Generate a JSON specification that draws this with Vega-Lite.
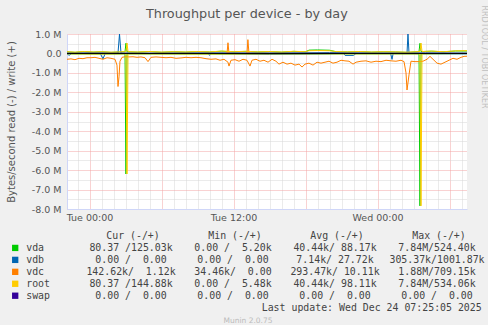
{
  "$schema": "https://vega.github.io/schema/vega-lite/v6.json",
  "background": "#f0f0f0",
  "padding": {"left": 6, "top": 5, "right": 0, "bottom": 0},
  "title": {"text": "Throughput per device - by day", "font": "DejaVu Sans", "fontSize": 12.8, "fontWeight": "normal", "color": "#555555", "anchor": "middle", "offset": -15},
  "spacing": 8,
  "config": {
    "font": "DejaVu Sans",
    "view": {"stroke": null},
    "axis": {"labelOverlap": false, "labelFlush": false, "labelBound": false}
  },
  "datasets": {
    "series": [
      {"h": -1.875, "dev": "vda", "dir": "w", "v": 80000}, {"h": -1.2, "dev": "vda", "dir": "w", "v": 55000}, {"h": -0.5, "dev": "vda", "dir": "w", "v": 95000}, {"h": 0.3, "dev": "vda", "dir": "w", "v": 65000}, {"h": 1.0, "dev": "vda", "dir": "w", "v": 85000}, {"h": 1.8, "dev": "vda", "dir": "w", "v": 55000}, {"h": 2.5, "dev": "vda", "dir": "w", "v": 75000}, {"h": 2.96, "dev": "vda", "dir": "w", "v": 90000}, {"h": 3.04, "dev": "vda", "dir": "w", "v": 524400}, {"h": 3.125, "dev": "vda", "dir": "w", "v": 85000}, {"h": 4.0, "dev": "vda", "dir": "w", "v": 65000}, {"h": 5.0, "dev": "vda", "dir": "w", "v": 95000}, {"h": 6.0, "dev": "vda", "dir": "w", "v": 60000}, {"h": 7.0, "dev": "vda", "dir": "w", "v": 85000}, {"h": 8.0, "dev": "vda", "dir": "w", "v": 65000}, {"h": 9.0, "dev": "vda", "dir": "w", "v": 95000}, {"h": 10.0, "dev": "vda", "dir": "w", "v": 75000}, {"h": 11.0, "dev": "vda", "dir": "w", "v": 115000}, {"h": 12.0, "dev": "vda", "dir": "w", "v": 85000}, {"h": 13.0, "dev": "vda", "dir": "w", "v": 105000}, {"h": 14.0, "dev": "vda", "dir": "w", "v": 75000}, {"h": 15.0, "dev": "vda", "dir": "w", "v": 95000}, {"h": 16.0, "dev": "vda", "dir": "w", "v": 65000}, {"h": 17.0, "dev": "vda", "dir": "w", "v": 105000}, {"h": 18.0, "dev": "vda", "dir": "w", "v": 85000}, {"h": 18.3, "dev": "vda", "dir": "w", "v": 170000}, {"h": 19.0, "dev": "vda", "dir": "w", "v": 180000}, {"h": 20.0, "dev": "vda", "dir": "w", "v": 165000}, {"h": 20.5, "dev": "vda", "dir": "w", "v": 95000}, {"h": 21.5, "dev": "vda", "dir": "w", "v": 75000}, {"h": 22.5, "dev": "vda", "dir": "w", "v": 95000}, {"h": 23.5, "dev": "vda", "dir": "w", "v": 65000}, {"h": 24.5, "dev": "vda", "dir": "w", "v": 85000}, {"h": 25.5, "dev": "vda", "dir": "w", "v": 75000}, {"h": 26.5, "dev": "vda", "dir": "w", "v": 55000}, {"h": 27.46, "dev": "vda", "dir": "w", "v": 95000}, {"h": 27.54, "dev": "vda", "dir": "w", "v": 520000}, {"h": 27.625, "dev": "vda", "dir": "w", "v": 95000}, {"h": 28.5, "dev": "vda", "dir": "w", "v": 115000}, {"h": 29.5, "dev": "vda", "dir": "w", "v": 85000}, {"h": 30.5, "dev": "vda", "dir": "w", "v": 125000}, {"h": 31.46, "dev": "vda", "dir": "w", "v": 125000},
      {"h": -1.875, "dev": "vda", "dir": "r", "v": -20000}, {"h": 1.0, "dev": "vda", "dir": "r", "v": -30000}, {"h": 2.96, "dev": "vda", "dir": "r", "v": -20000}, {"h": 3.04, "dev": "vda", "dir": "r", "v": -6200000}, {"h": 3.125, "dev": "vda", "dir": "r", "v": -20000}, {"h": 10.0, "dev": "vda", "dir": "r", "v": -30000}, {"h": 20.0, "dev": "vda", "dir": "r", "v": -20000}, {"h": 27.46, "dev": "vda", "dir": "r", "v": -20000}, {"h": 27.54, "dev": "vda", "dir": "r", "v": -7840000}, {"h": 27.625, "dev": "vda", "dir": "r", "v": -20000}, {"h": 31.46, "dev": "vda", "dir": "r", "v": -10000},
      {"h": -1.875, "dev": "vdb", "dir": "w", "v": 10000}, {"h": 0.0, "dev": "vdb", "dir": "w", "v": 30000}, {"h": 2.375, "dev": "vdb", "dir": "w", "v": 20000}, {"h": 2.5, "dev": "vdb", "dir": "w", "v": 1000000}, {"h": 2.625, "dev": "vdb", "dir": "w", "v": 20000}, {"h": 5.0, "dev": "vdb", "dir": "w", "v": 10000}, {"h": 10.0, "dev": "vdb", "dir": "w", "v": 30000}, {"h": 15.0, "dev": "vdb", "dir": "w", "v": 20000}, {"h": 20.0, "dev": "vdb", "dir": "w", "v": 40000}, {"h": 24.0, "dev": "vdb", "dir": "w", "v": 20000}, {"h": 26.46, "dev": "vdb", "dir": "w", "v": 20000}, {"h": 26.54, "dev": "vdb", "dir": "w", "v": 1001870}, {"h": 26.625, "dev": "vdb", "dir": "w", "v": 20000}, {"h": 28.0, "dev": "vdb", "dir": "w", "v": 30000}, {"h": 31.46, "dev": "vdb", "dir": "w", "v": 20000},
      {"h": -1.875, "dev": "vdb", "dir": "r", "v": -10000}, {"h": -1.7, "dev": "vdb", "dir": "r", "v": -100000}, {"h": -1.5, "dev": "vdb", "dir": "r", "v": -10000}, {"h": 0.9, "dev": "vdb", "dir": "r", "v": -10000}, {"h": 1.125, "dev": "vdb", "dir": "r", "v": -280000}, {"h": 1.3, "dev": "vdb", "dir": "r", "v": -10000}, {"h": 9.9, "dev": "vdb", "dir": "r", "v": -10000}, {"h": 10.0, "dev": "vdb", "dir": "r", "v": -100000}, {"h": 10.1, "dev": "vdb", "dir": "r", "v": -10000}, {"h": 15.0, "dev": "vdb", "dir": "r", "v": -50000}, {"h": 21.2, "dev": "vdb", "dir": "r", "v": -10000}, {"h": 21.3, "dev": "vdb", "dir": "r", "v": -100000}, {"h": 22.0, "dev": "vdb", "dir": "r", "v": -100000}, {"h": 22.2, "dev": "vdb", "dir": "r", "v": -10000}, {"h": 25.1, "dev": "vdb", "dir": "r", "v": -10000}, {"h": 25.21, "dev": "vdb", "dir": "r", "v": -305370}, {"h": 25.3, "dev": "vdb", "dir": "r", "v": -10000}, {"h": 31.46, "dev": "vdb", "dir": "r", "v": -20000},
      {"h": -1.875, "dev": "vdc", "dir": "w", "v": 1000}, {"h": 11.46, "dev": "vdc", "dir": "w", "v": 1000}, {"h": 11.54, "dev": "vdc", "dir": "w", "v": 550000}, {"h": 11.625, "dev": "vdc", "dir": "w", "v": 1000}, {"h": 13.125, "dev": "vdc", "dir": "w", "v": 1000}, {"h": 13.2, "dev": "vdc", "dir": "w", "v": 709150}, {"h": 13.29, "dev": "vdc", "dir": "w", "v": 1000}, {"h": 31.46, "dev": "vdc", "dir": "w", "v": 1120},
      {"h": -1.875, "dev": "vdc", "dir": "r", "v": -300000}, {"h": -1.54, "dev": "vdc", "dir": "r", "v": -280000}, {"h": -1.21, "dev": "vdc", "dir": "r", "v": -320000}, {"h": -0.875, "dev": "vdc", "dir": "r", "v": -250000}, {"h": -0.54, "dev": "vdc", "dir": "r", "v": -270000}, {"h": -0.21, "dev": "vdc", "dir": "r", "v": -220000}, {"h": 0.125, "dev": "vdc", "dir": "r", "v": -220000}, {"h": 0.46, "dev": "vdc", "dir": "r", "v": -200000}, {"h": 0.79, "dev": "vdc", "dir": "r", "v": -250000}, {"h": 1.125, "dev": "vdc", "dir": "r", "v": -300000}, {"h": 1.46, "dev": "vdc", "dir": "r", "v": -220000}, {"h": 1.79, "dev": "vdc", "dir": "r", "v": -250000}, {"h": 2.125, "dev": "vdc", "dir": "r", "v": -300000}, {"h": 2.29, "dev": "vdc", "dir": "r", "v": -600000}, {"h": 2.375, "dev": "vdc", "dir": "r", "v": -1700000}, {"h": 2.46, "dev": "vdc", "dir": "r", "v": -1200000}, {"h": 2.54, "dev": "vdc", "dir": "r", "v": -400000}, {"h": 2.71, "dev": "vdc", "dir": "r", "v": -200000}, {"h": 2.96, "dev": "vdc", "dir": "r", "v": -170000}, {"h": 3.29, "dev": "vdc", "dir": "r", "v": -180000}, {"h": 3.625, "dev": "vdc", "dir": "r", "v": -170000}, {"h": 3.96, "dev": "vdc", "dir": "r", "v": -200000}, {"h": 4.29, "dev": "vdc", "dir": "r", "v": -180000}, {"h": 4.625, "dev": "vdc", "dir": "r", "v": -220000}, {"h": 4.875, "dev": "vdc", "dir": "r", "v": -420000}, {"h": 5.125, "dev": "vdc", "dir": "r", "v": -200000}, {"h": 5.54, "dev": "vdc", "dir": "r", "v": -180000}, {"h": 5.96, "dev": "vdc", "dir": "r", "v": -200000}, {"h": 6.375, "dev": "vdc", "dir": "r", "v": -220000}, {"h": 6.79, "dev": "vdc", "dir": "r", "v": -200000}, {"h": 7.21, "dev": "vdc", "dir": "r", "v": -250000}, {"h": 7.625, "dev": "vdc", "dir": "r", "v": -230000}, {"h": 8.04, "dev": "vdc", "dir": "r", "v": -200000}, {"h": 8.46, "dev": "vdc", "dir": "r", "v": -220000}, {"h": 8.875, "dev": "vdc", "dir": "r", "v": -200000}, {"h": 9.29, "dev": "vdc", "dir": "r", "v": -220000}, {"h": 9.71, "dev": "vdc", "dir": "r", "v": -270000}, {"h": 10.125, "dev": "vdc", "dir": "r", "v": -300000}, {"h": 10.54, "dev": "vdc", "dir": "r", "v": -280000}, {"h": 10.875, "dev": "vdc", "dir": "r", "v": -350000}, {"h": 11.21, "dev": "vdc", "dir": "r", "v": -300000}, {"h": 11.54, "dev": "vdc", "dir": "r", "v": -450000}, {"h": 11.625, "dev": "vdc", "dir": "r", "v": -650000}, {"h": 11.79, "dev": "vdc", "dir": "r", "v": -350000}, {"h": 12.125, "dev": "vdc", "dir": "r", "v": -320000}, {"h": 12.46, "dev": "vdc", "dir": "r", "v": -400000}, {"h": 12.79, "dev": "vdc", "dir": "r", "v": -300000}, {"h": 13.125, "dev": "vdc", "dir": "r", "v": -350000}, {"h": 13.375, "dev": "vdc", "dir": "r", "v": -650000}, {"h": 13.54, "dev": "vdc", "dir": "r", "v": -350000}, {"h": 13.875, "dev": "vdc", "dir": "r", "v": -300000}, {"h": 14.21, "dev": "vdc", "dir": "r", "v": -400000}, {"h": 14.54, "dev": "vdc", "dir": "r", "v": -350000}, {"h": 14.875, "dev": "vdc", "dir": "r", "v": -450000}, {"h": 15.21, "dev": "vdc", "dir": "r", "v": -300000}, {"h": 15.54, "dev": "vdc", "dir": "r", "v": -400000}, {"h": 15.79, "dev": "vdc", "dir": "r", "v": -550000}, {"h": 16.125, "dev": "vdc", "dir": "r", "v": -450000}, {"h": 16.46, "dev": "vdc", "dir": "r", "v": -550000}, {"h": 16.79, "dev": "vdc", "dir": "r", "v": -500000}, {"h": 17.125, "dev": "vdc", "dir": "r", "v": -600000}, {"h": 17.46, "dev": "vdc", "dir": "r", "v": -550000}, {"h": 17.71, "dev": "vdc", "dir": "r", "v": -700000}, {"h": 17.96, "dev": "vdc", "dir": "r", "v": -550000}, {"h": 18.29, "dev": "vdc", "dir": "r", "v": -500000}, {"h": 18.625, "dev": "vdc", "dir": "r", "v": -600000}, {"h": 18.96, "dev": "vdc", "dir": "r", "v": -450000}, {"h": 19.29, "dev": "vdc", "dir": "r", "v": -500000}, {"h": 19.625, "dev": "vdc", "dir": "r", "v": -450000}, {"h": 19.96, "dev": "vdc", "dir": "r", "v": -400000}, {"h": 20.29, "dev": "vdc", "dir": "r", "v": -500000}, {"h": 20.625, "dev": "vdc", "dir": "r", "v": -450000}, {"h": 20.96, "dev": "vdc", "dir": "r", "v": -350000}, {"h": 21.29, "dev": "vdc", "dir": "r", "v": -380000}, {"h": 21.625, "dev": "vdc", "dir": "r", "v": -400000}, {"h": 21.96, "dev": "vdc", "dir": "r", "v": -550000}, {"h": 22.21, "dev": "vdc", "dir": "r", "v": -450000}, {"h": 22.625, "dev": "vdc", "dir": "r", "v": -400000}, {"h": 23.04, "dev": "vdc", "dir": "r", "v": -380000}, {"h": 23.46, "dev": "vdc", "dir": "r", "v": -450000}, {"h": 23.875, "dev": "vdc", "dir": "r", "v": -400000}, {"h": 24.29, "dev": "vdc", "dir": "r", "v": -420000}, {"h": 24.71, "dev": "vdc", "dir": "r", "v": -350000}, {"h": 25.125, "dev": "vdc", "dir": "r", "v": -380000}, {"h": 25.54, "dev": "vdc", "dir": "r", "v": -400000}, {"h": 25.96, "dev": "vdc", "dir": "r", "v": -350000}, {"h": 26.21, "dev": "vdc", "dir": "r", "v": -420000}, {"h": 26.375, "dev": "vdc", "dir": "r", "v": -1000000}, {"h": 26.46, "dev": "vdc", "dir": "r", "v": -1880000}, {"h": 26.625, "dev": "vdc", "dir": "r", "v": -1100000}, {"h": 26.79, "dev": "vdc", "dir": "r", "v": -400000}, {"h": 27.125, "dev": "vdc", "dir": "r", "v": -420000}, {"h": 27.46, "dev": "vdc", "dir": "r", "v": -420000}, {"h": 27.79, "dev": "vdc", "dir": "r", "v": -400000}, {"h": 28.125, "dev": "vdc", "dir": "r", "v": -300000}, {"h": 28.375, "dev": "vdc", "dir": "r", "v": -150000}, {"h": 28.625, "dev": "vdc", "dir": "r", "v": -300000}, {"h": 28.96, "dev": "vdc", "dir": "r", "v": -500000}, {"h": 29.29, "dev": "vdc", "dir": "r", "v": -550000}, {"h": 29.625, "dev": "vdc", "dir": "r", "v": -450000}, {"h": 29.96, "dev": "vdc", "dir": "r", "v": -350000}, {"h": 30.29, "dev": "vdc", "dir": "r", "v": -250000}, {"h": 30.625, "dev": "vdc", "dir": "r", "v": -300000}, {"h": 30.96, "dev": "vdc", "dir": "r", "v": -200000}, {"h": 31.21, "dev": "vdc", "dir": "r", "v": -150000}, {"h": 31.46, "dev": "vdc", "dir": "r", "v": -142620},
      {"h": -1.875, "dev": "root", "dir": "w", "v": 90000}, {"h": -1.2, "dev": "root", "dir": "w", "v": 65000}, {"h": -0.5, "dev": "root", "dir": "w", "v": 100000}, {"h": 0.3, "dev": "root", "dir": "w", "v": 75000}, {"h": 1.0, "dev": "root", "dir": "w", "v": 90000}, {"h": 1.8, "dev": "root", "dir": "w", "v": 65000}, {"h": 2.5, "dev": "root", "dir": "w", "v": 80000}, {"h": 3.04, "dev": "root", "dir": "w", "v": 95000}, {"h": 3.125, "dev": "root", "dir": "w", "v": 534000}, {"h": 3.21, "dev": "root", "dir": "w", "v": 90000}, {"h": 4.0, "dev": "root", "dir": "w", "v": 75000}, {"h": 5.0, "dev": "root", "dir": "w", "v": 100000}, {"h": 6.0, "dev": "root", "dir": "w", "v": 70000}, {"h": 7.0, "dev": "root", "dir": "w", "v": 90000}, {"h": 8.0, "dev": "root", "dir": "w", "v": 75000}, {"h": 9.0, "dev": "root", "dir": "w", "v": 100000}, {"h": 10.0, "dev": "root", "dir": "w", "v": 80000}, {"h": 11.0, "dev": "root", "dir": "w", "v": 120000}, {"h": 12.0, "dev": "root", "dir": "w", "v": 90000}, {"h": 13.0, "dev": "root", "dir": "w", "v": 110000}, {"h": 14.0, "dev": "root", "dir": "w", "v": 80000}, {"h": 15.0, "dev": "root", "dir": "w", "v": 100000}, {"h": 16.0, "dev": "root", "dir": "w", "v": 75000}, {"h": 17.0, "dev": "root", "dir": "w", "v": 110000}, {"h": 18.0, "dev": "root", "dir": "w", "v": 90000}, {"h": 18.3, "dev": "root", "dir": "w", "v": 140000}, {"h": 19.0, "dev": "root", "dir": "w", "v": 150000}, {"h": 20.0, "dev": "root", "dir": "w", "v": 140000}, {"h": 20.5, "dev": "root", "dir": "w", "v": 100000}, {"h": 21.5, "dev": "root", "dir": "w", "v": 80000}, {"h": 22.5, "dev": "root", "dir": "w", "v": 100000}, {"h": 23.5, "dev": "root", "dir": "w", "v": 75000}, {"h": 24.5, "dev": "root", "dir": "w", "v": 90000}, {"h": 25.5, "dev": "root", "dir": "w", "v": 80000}, {"h": 26.5, "dev": "root", "dir": "w", "v": 65000}, {"h": 27.54, "dev": "root", "dir": "w", "v": 100000}, {"h": 27.625, "dev": "root", "dir": "w", "v": 534060}, {"h": 27.71, "dev": "root", "dir": "w", "v": 100000}, {"h": 28.5, "dev": "root", "dir": "w", "v": 120000}, {"h": 29.5, "dev": "root", "dir": "w", "v": 90000}, {"h": 30.5, "dev": "root", "dir": "w", "v": 130000}, {"h": 31.46, "dev": "root", "dir": "w", "v": 144880},
      {"h": -1.875, "dev": "root", "dir": "r", "v": -20000}, {"h": 1.0, "dev": "root", "dir": "r", "v": -30000}, {"h": 3.04, "dev": "root", "dir": "r", "v": -20000}, {"h": 3.125, "dev": "root", "dir": "r", "v": -6200000}, {"h": 3.21, "dev": "root", "dir": "r", "v": -20000}, {"h": 10.0, "dev": "root", "dir": "r", "v": -30000}, {"h": 20.0, "dev": "root", "dir": "r", "v": -20000}, {"h": 27.54, "dev": "root", "dir": "r", "v": -20000}, {"h": 27.625, "dev": "root", "dir": "r", "v": -7840000}, {"h": 27.71, "dev": "root", "dir": "r", "v": -20000}, {"h": 31.46, "dev": "root", "dir": "r", "v": -80},
      {"h": -1.875, "dev": "swap", "dir": "w", "v": 0}, {"h": 31.46, "dev": "swap", "dir": "w", "v": 0}, {"h": -1.875, "dev": "swap", "dir": "r", "v": 0}, {"h": 31.46, "dev": "swap", "dir": "r", "v": 0}
    ],
    "zero": [{"v": 0}],
    "devices": [
      {"dev": "vda", "cur": "\u00a080.37\u00a0/125.03k", "min": "\u00a0\u00a00.00\u00a0/\u00a0\u00a05.20k", "avg": "\u00a040.44k/\u00a088.17k", "max": "\u00a0\u00a07.84M/524.40k"},
      {"dev": "vdb", "cur": "\u00a0\u00a00.00\u00a0/\u00a0\u00a00.00\u00a0", "min": "\u00a0\u00a00.00\u00a0/\u00a0\u00a00.00\u00a0", "avg": "\u00a0\u00a07.14k/\u00a027.72k", "max": "305.37k/1001.87k"},
      {"dev": "vdc", "cur": "142.62k/\u00a0\u00a01.12k", "min": "\u00a034.46k/\u00a0\u00a00.00\u00a0", "avg": "293.47k/\u00a010.11k", "max": "\u00a0\u00a01.88M/709.15k"},
      {"dev": "root", "cur": "\u00a080.37\u00a0/144.88k", "min": "\u00a0\u00a00.00\u00a0/\u00a0\u00a05.48k", "avg": "\u00a040.44k/\u00a098.11k", "max": "\u00a0\u00a07.84M/534.06k"},
      {"dev": "swap", "cur": "\u00a0\u00a00.00\u00a0/\u00a0\u00a00.00\u00a0", "min": "\u00a0\u00a00.00\u00a0/\u00a0\u00a00.00\u00a0", "avg": "\u00a0\u00a00.00\u00a0/\u00a0\u00a00.00\u00a0", "max": "\u00a0\u00a00.00\u00a0/\u00a0\u00a00.00\u00a0"}
    ],
    "headers": [
      {"col": "cur", "text": "Cur (-/+)"},
      {"col": "min", "text": "Min (-/+)"},
      {"col": "avg", "text": "Avg (-/+)"},
      {"col": "max", "text": "Max (-/+)"}
    ],
    "update": [
      {"text": "Last update: Wed Dec 24 07:25:05 2025"}
    ]
  },
  "vconcat": [
    {
      "width": 400,
      "height": 175,
      "view": {"fill": "#ffffff", "stroke": null},
      "title": {"text": "RRDTOOL / TOBI OETIKER", "orient": "right", "anchor": "start", "angle": 90, "font": "DejaVu Sans", "fontSize": 8, "fontWeight": "normal", "color": "#c0c0c0", "offset": 12, "dx": -23.5},
      "layer": [
        {
          "data": {"name": "series"},
          "mark": {"type": "line", "strokeWidth": 1, "clip": true},
          "encoding": {
            "x": {
              "field": "h", "type": "quantitative",
              "scale": {"domain": [-1.875, 31.458], "nice": false, "zero": false},
              "axis": {
                "title": null,
                "values": [-1,0,1,2,3,4,5,6,7,8,9,10,11,12,13,14,15,16,17,18,19,20,21,22,23,24,25,26,27,28,29,30,31],
                "labelExpr": "datum.value === 0 ? 'Tue 00:00' : datum.value === 12 ? 'Tue 12:00' : datum.value === 24 ? 'Wed 00:00' : ''",
                "labelFont": "DejaVu Sans", "labelFontSize": 9.5, "labelColor": "#555555", "labelPadding": 3,
                "labelOverlap": false, "labelFlush": false,
                "ticks": false,
                "domainColor": "#cfd6f8",
                "grid": true,
                "gridDash": [1, 1],
                "gridColor": {"condition": {"test": "datum.value % 6 === 0", "value": "#f2a4a4"}, "value": "#d6d6d6"}
              }
            },
            "y": {
              "field": "v", "type": "quantitative",
              "scale": {"domain": [-8000000, 1000000], "nice": false, "zero": false},
              "axis": {
                "title": "Bytes/second read (-) / write (+)",
                "titleFont": "DejaVu Sans", "titleFontSize": 10, "titleFontWeight": "normal", "titleColor": "#555555", "titlePadding": 15,
                "values": [-8000000,-7500000,-7000000,-6500000,-6000000,-5500000,-5000000,-4500000,-4000000,-3500000,-3000000,-2500000,-2000000,-1500000,-1000000,-500000,0,500000,1000000],
                "labelExpr": "datum.value % 1000000 === 0 ? (datum.value === 0 ? '0.0\u00a0\u00a0' : (datum.value < 0 ? '-' : '') + format(abs(datum.value) / 1000000, '.1f') + ' M') : ''",
                "labelFont": "DejaVu Sans", "labelFontSize": 9.5, "labelColor": "#555555", "labelPadding": 6,
                "labelOverlap": false, "labelFlush": false,
                "ticks": false,
                "domainColor": "#cfd6f8",
                "grid": true,
                "gridDash": [1, 1],
                "gridColor": {"condition": {"test": "datum.value % 1000000 === 0", "value": "#f2a4a4"}, "value": "#d6d6d6"}
              }
            },
            "color": {
              "field": "dev", "type": "nominal",
              "scale": {"domain": ["vda", "vdb", "vdc", "root", "swap"], "range": ["#00cc00", "#0066b3", "#ff8000", "#ffcc00", "#330099"]},
              "legend": null
            },
            "detail": {"field": "dir", "type": "nominal"}
          }
        },
        {
          "data": {"name": "zero"},
          "mark": {"type": "rule", "color": "#000000", "strokeWidth": 1},
          "encoding": {
            "y": {
              "field": "v", "type": "quantitative",
              "scale": {"domain": [-8000000, 1000000], "nice": false, "zero": false},
              "axis": {
                "title": "Bytes/second read (-) / write (+)",
                "titleFont": "DejaVu Sans", "titleFontSize": 10, "titleFontWeight": "normal", "titleColor": "#555555", "titlePadding": 15,
                "values": [-8000000,-7500000,-7000000,-6500000,-6000000,-5500000,-5000000,-4500000,-4000000,-3500000,-3000000,-2500000,-2000000,-1500000,-1000000,-500000,0,500000,1000000],
                "labelExpr": "datum.value % 1000000 === 0 ? (datum.value === 0 ? '0.0\u00a0\u00a0' : (datum.value < 0 ? '-' : '') + format(abs(datum.value) / 1000000, '.1f') + ' M') : ''",
                "labelFont": "DejaVu Sans", "labelFontSize": 9.5, "labelColor": "#555555", "labelPadding": 6,
                "labelOverlap": false, "labelFlush": false,
                "ticks": false,
                "domainColor": "#cfd6f8",
                "grid": true,
                "gridDash": [1, 1],
                "gridColor": {"condition": {"test": "datum.value % 1000000 === 0", "value": "#f2a4a4"}, "value": "#d6d6d6"}
              }
            }
          }
        }
      ]
    },
    {
      "width": 408,
      "height": 83.65,
      "title": {"text": "Munin 2.0.75", "orient": "bottom", "anchor": "middle", "frame": "group", "font": "DejaVu Sans", "fontSize": 7.5, "fontWeight": "normal", "color": "#bbbbbb", "offset": 3, "dx": -23},
      "layer": [
        {
          "data": {"name": "devices"},
          "mark": {"type": "square", "size": 40, "opacity": 1, "xOffset": -51.8},
          "encoding": {
            "x": {"datum": "name", "type": "nominal", "scale": {"type": "point", "domain": ["name", "cur", "min", "avg", "max"], "padding": 0}, "axis": null},
            "y": {"field": "dev", "type": "nominal", "scale": {"type": "point", "domain": ["hdr", "vda", "vdb", "vdc", "root", "swap", "upd"], "padding": 0.5}, "axis": null},
            "color": {"field": "dev", "type": "nominal", "scale": {"domain": ["vda", "vdb", "vdc", "root", "swap"], "range": ["#00cc00", "#0066b3", "#ff8000", "#ffcc00", "#330099"]}, "legend": null}
          }
        },
        {
          "data": {"name": "devices"},
          "mark": {"type": "text", "align": "left", "baseline": "middle", "font": "DejaVu Sans Mono", "fontSize": 9.9, "color": "#444444", "dx": -40.8},
          "encoding": {
            "x": {"datum": "name", "type": "nominal", "scale": {"type": "point", "domain": ["name", "cur", "min", "avg", "max"], "padding": 0}, "axis": null},
            "y": {"field": "dev", "type": "nominal", "scale": {"type": "point", "domain": ["hdr", "vda", "vdb", "vdc", "root", "swap", "upd"], "padding": 0.5}, "axis": null},
            "text": {"field": "dev"}
          }
        },
        {
          "data": {"name": "devices"},
          "transform": [{"fold": ["cur", "min", "avg", "max"], "as": ["col", "val"]}],
          "mark": {"type": "text", "align": "center", "baseline": "middle", "font": "DejaVu Sans Mono", "fontSize": 9.9, "color": "#444444", "dx": -38},
          "encoding": {
            "x": {"field": "col", "type": "nominal", "scale": {"type": "point", "domain": ["name", "cur", "min", "avg", "max"], "padding": 0}, "axis": null},
            "y": {"field": "dev", "type": "nominal", "scale": {"type": "point", "domain": ["hdr", "vda", "vdb", "vdc", "root", "swap", "upd"], "padding": 0.5}, "axis": null},
            "text": {"field": "val"}
          }
        },
        {
          "data": {"name": "headers"},
          "mark": {"type": "text", "align": "center", "baseline": "middle", "font": "DejaVu Sans Mono", "fontSize": 9.9, "color": "#444444", "dx": -36},
          "encoding": {
            "x": {"field": "col", "type": "nominal", "scale": {"type": "point", "domain": ["name", "cur", "min", "avg", "max"], "padding": 0}, "axis": null},
            "y": {"datum": "hdr", "type": "nominal", "scale": {"type": "point", "domain": ["hdr", "vda", "vdb", "vdc", "root", "swap", "upd"], "padding": 0.5}, "axis": null},
            "text": {"field": "text"}
          }
        },
        {
          "data": {"name": "update"},
          "mark": {"type": "text", "align": "right", "baseline": "middle", "font": "DejaVu Sans Mono", "fontSize": 9.9, "color": "#444444", "dx": 6.7},
          "encoding": {
            "x": {"datum": "max", "type": "nominal", "scale": {"type": "point", "domain": ["name", "cur", "min", "avg", "max"], "padding": 0}, "axis": null},
            "y": {"datum": "upd", "type": "nominal", "scale": {"type": "point", "domain": ["hdr", "vda", "vdb", "vdc", "root", "swap", "upd"], "padding": 0.5}, "axis": null},
            "text": {"field": "text"}
          }
        }
      ]
    }
  ]
}
